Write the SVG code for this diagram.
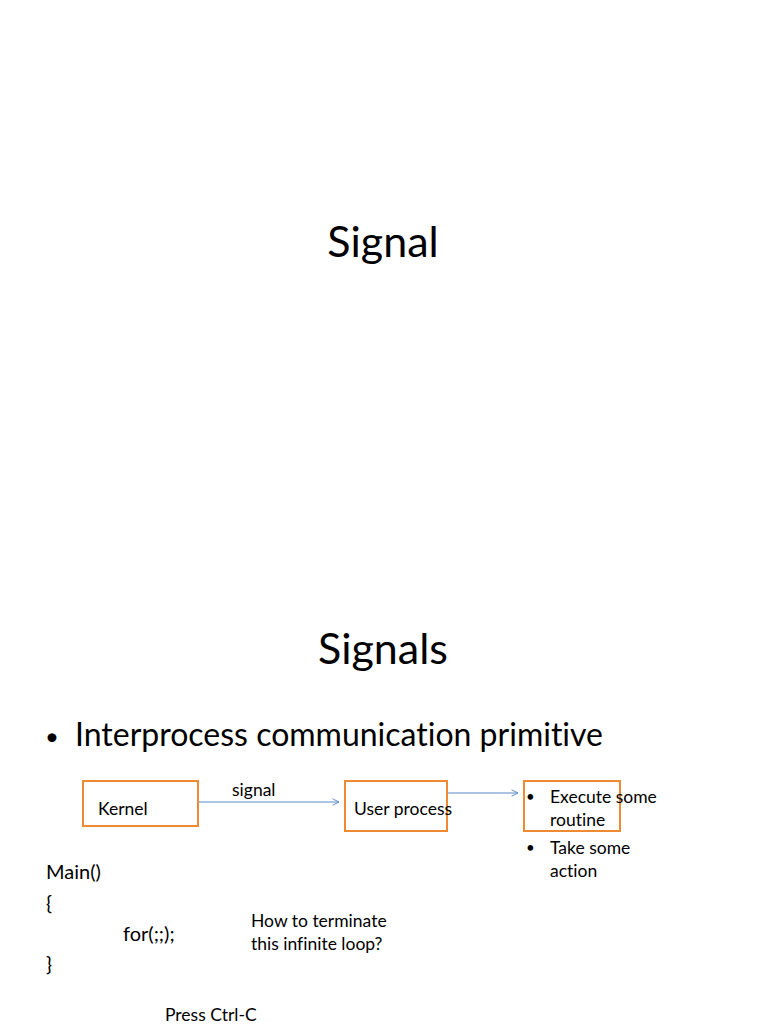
<svg xmlns="http://www.w3.org/2000/svg" width="768" height="1024" viewBox="0 0 768 1024">
<style>
text{font-family:Lato,"Liberation Sans",sans-serif;fill:#000;font-variant-ligatures:none}
.box{fill:none;stroke:#f08a32;stroke-width:2}
.conn{stroke:#5b8ccc;stroke-width:1.2;fill:none}
.s{font-size:17.5px}
.m{font-size:20px}
</style>
<defs>
<marker id="arr" viewBox="0 0 10 10" refX="9" refY="5" markerWidth="8" markerHeight="8" orient="auto" markerUnits="userSpaceOnUse">
<path d="M1,1 L9,5 L1,9" fill="none" stroke="#5b8ccc" stroke-width="1.2"/>
</marker>
</defs>
<rect width="768" height="1024" fill="#fff"/>
<text x="383" y="257" font-size="43" text-anchor="middle">Signal</text>
<text x="383" y="664" font-size="43" text-anchor="middle">Signals</text>
<text x="45" y="745" font-size="24">•</text>
<text x="75" y="746" font-size="32">Interprocess communication primitive</text>
<g id="connectors">
<line class="conn" x1="198" y1="802" x2="339" y2="802" marker-end="url(#arr)"/>
<line class="conn" x1="447" y1="793" x2="518" y2="793" marker-end="url(#arr)"/>
</g>
<text class="s" x="232" y="796">signal</text>
<g id="kernel">
<rect class="box" x="83" y="781" width="115" height="45"/>
<text class="s" x="98" y="815">Kernel</text>
</g>
<g id="user-process">
<rect class="box" x="345" y="781" width="102" height="50"/>
<text class="s" x="354" y="815">User process</text>
</g>
<g id="action">
<rect class="box" x="524" y="781" width="96" height="50"/>
<text x="526" y="802" font-size="15">•</text>
<text class="s" x="550" y="803">Execute some</text>
<text class="s" x="550" y="826">routine</text>
<text x="526" y="853" font-size="15">•</text>
<text class="s" x="550" y="854">Take some</text>
<text class="s" x="550" y="877">action</text>
</g>
<text class="m" x="46" y="879">Main()</text>
<text class="m" x="46" y="910">{</text>
<text class="m" x="123" y="941">for(;;);</text>
<text class="m" x="46" y="971">}</text>
<text class="s" x="251" y="927">How to terminate</text>
<text class="s" x="251" y="950">this infinite loop?</text>
<text class="s" x="165" y="1021">Press Ctrl-C</text>
</svg>
